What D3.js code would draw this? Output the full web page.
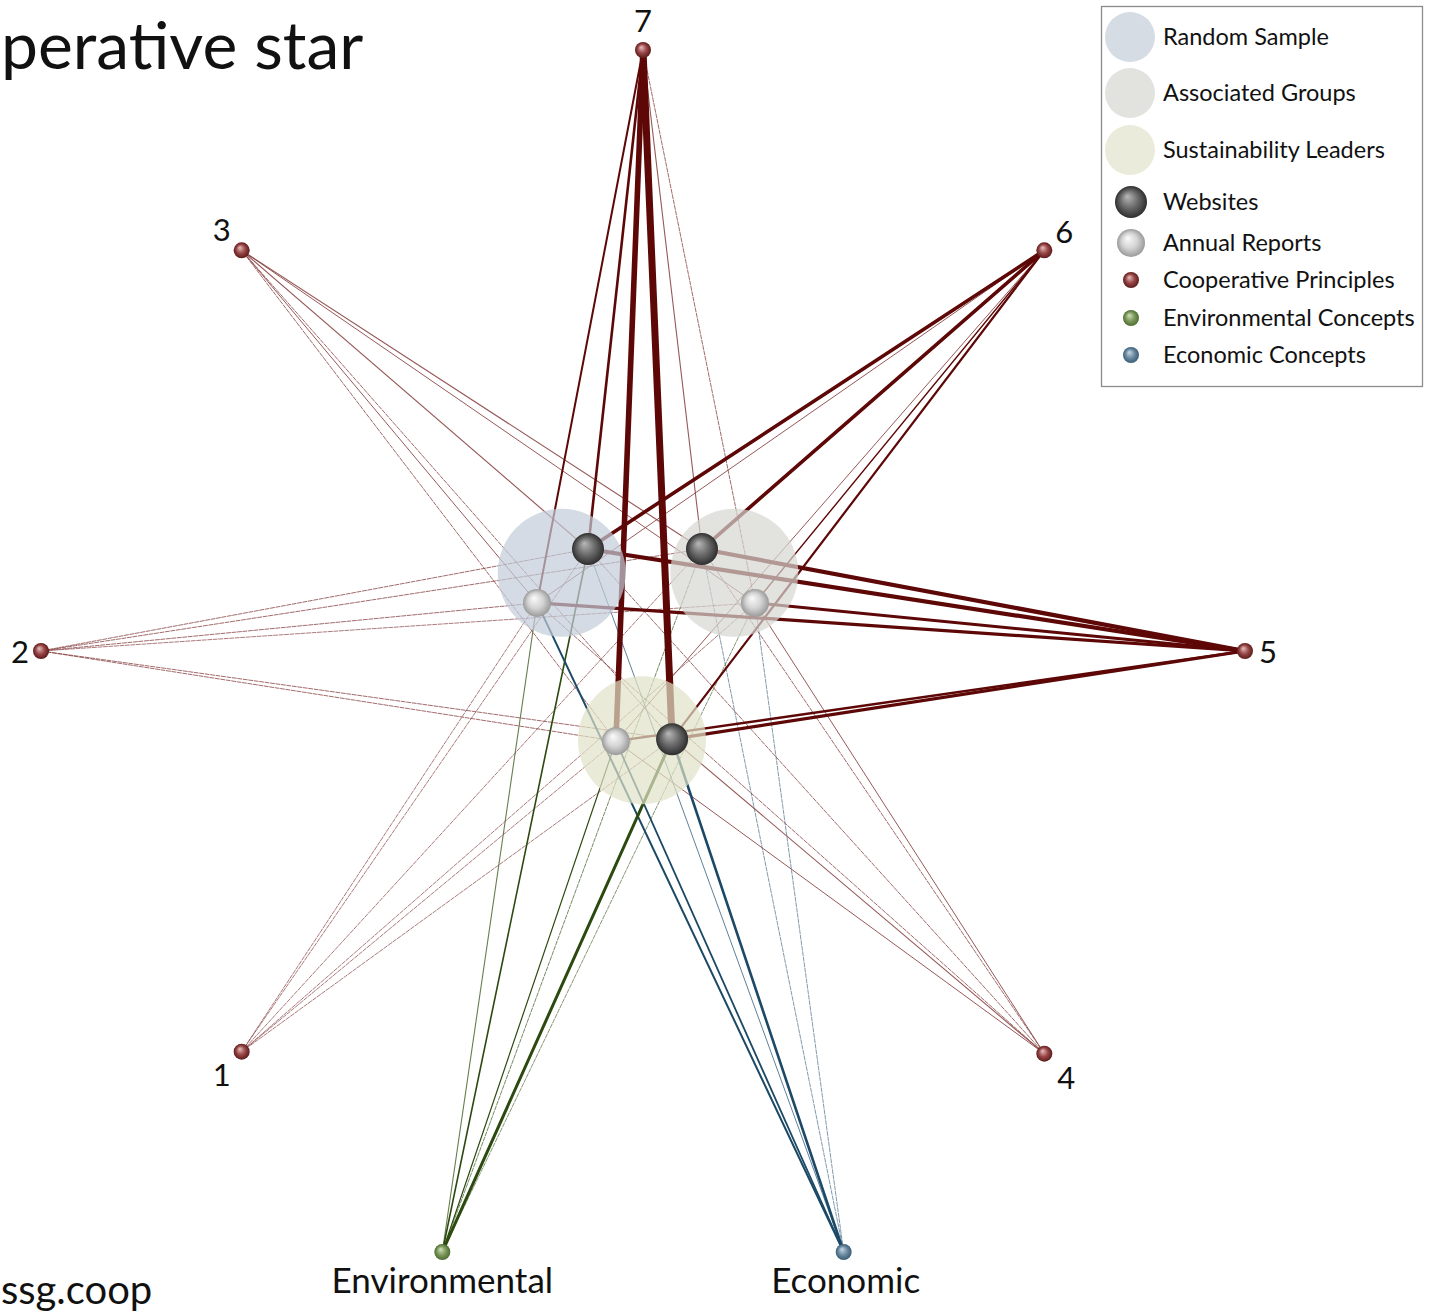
<!DOCTYPE html>
<html>
<head>
<meta charset="utf-8">
<script src="https://cdn.jsdelivr.net/npm/d3@7"></script>
<style>
  html, body { margin: 0; padding: 0; background: #ffffff; overflow: hidden; }
  svg { display: block; }
  text { font-family: Lato, "Open Sans", "DejaVu Sans", sans-serif; fill: #111; }
</style>
</head>
<body>
<svg id="chart" width="1430" height="1312"></svg>
<script>
// ---------------- DATA ----------------
const titleText = "perative star";
const footerText = "ssg.coop";

// outer nodes: the seven cooperative principles + two concept groups
const targetNames = ["1", "2", "3", "4", "5", "6", "7", "Environmental", "Economic"];
const targetKinds = ["principle", "principle", "principle", "principle", "principle", "principle", "principle", "environmental", "economic"];
const targetGridX = [-2, -3, -2, 2, 3, 2, 0, -1, 1];
const targetGridY = [2, 0, -2, 2.01, 0, -2, -3, 3, 3];

// sample groups (large translucent discs)
const groupNames = ["Random Sample", "Associated Groups", "Sustainability Leaders"];
const groupGridX = [-0.405, 0.455, -0.005];
const groupGridY = [-0.39, -0.39, 0.445];

// source nodes (websites / annual reports of each group)
const sourceNames = ["RS Websites", "RS Annual Reports", "AG Websites", "AG Annual Reports", "SL Websites", "SL Annual Reports"];
const sourceKinds = ["website", "report", "website", "report", "website", "report"];
const sourceGridX = [-0.274, -0.528, 0.294, 0.558, 0.145, -0.135];
const sourceGridY = [-0.509, -0.24, -0.509, -0.24, 0.44, 0.45];

// link strengths, per source, to targets in order 1..7, Environmental, Economic
const linksRSW = [0.8, 0.9, 1.15, 0.9, 4.2, 3.6, 2.6, 1.6, 1.0];
const linksRSA = [0.8, 0.9, 1.0, 0.9, 3.2, 1.0, 2.0, 1.1, 2.0];
const linksAGW = [0.8, 0.9, 1.15, 0.9, 4.2, 3.6, 1.1, 0.9, 0.8];
const linksAGA = [0.8, 0.8, 1.0, 1.0, 3.0, 1.4, 0.9, 0.8, 0.8];
const linksSLW = [0.8, 0.9, 0.9, 1.1, 3.2, 2.2, 7.0, 3.0, 2.6];
const linksSLA = [0.8, 0.9, 0.9, 1.0, 2.4, 1.0, 5.6, 1.2, 1.8];
const linkRows = [linksRSW, linksRSA, linksAGW, linksAGA, linksSLW, linksSLA];

// legend
const legendLabels = ["Random Sample", "Associated Groups", "Sustainability Leaders", "Websites", "Annual Reports", "Cooperative Principles", "Environmental Concepts", "Economic Concepts"];
const legendKinds = ["group0", "group1", "group2", "website", "report", "principle", "environmental", "economic"];

// ---------------- DRAW ----------------
const svg = d3.select("#chart");
const x = d3.scaleLinear().domain([-3, 3]).range([41, 1245]);
const y = d3.scaleLinear().domain([-3, 3]).range([50, 1252]);
const widthScale = d3.scaleLinear().domain([0, 7]).range([0, 7]);

const groupFill = ["rgb(194,204,216)", "rgb(214,214,208)", "rgb(224,226,200)"];
const groupSolid = ["rgb(214,220,228)", "rgb(226,226,222)", "rgb(234,235,218)"];
const edgeColor = { principle: "#5e0707", environmental: "#2c4a10", economic: "#1b4966" };
const thinColor = { principle: "#843c3c", environmental: "#4a6630", economic: "#436a84" };

// sphere gradients
const defs = svg.append("defs");
const sphereStyles = {
  website: ["#b9b9b9", "#6a6a6a", "#2e2e2e"],
  report: ["#fbfbfb", "#d4d4d4", "#9a9a9a"],
  principle: ["#e6c2c2", "#9a4848", "#5c1a1a"],
  environmental: ["#d2e2bf", "#7d9a5c", "#4f6b33"],
  economic: ["#c8d8e4", "#6d8ca3", "#3b5c74"]
};
Object.entries(sphereStyles).forEach(([k, c]) => {
  const g = defs.append("radialGradient").attr("id", "sph-" + k)
    .attr("cx", "0.5").attr("cy", "0.5").attr("r", "0.5")
    .attr("fx", "0.38").attr("fy", "0.32");
  g.append("stop").attr("offset", "0%").attr("stop-color", c[0]);
  g.append("stop").attr("offset", "55%").attr("stop-color", c[1]);
  g.append("stop").attr("offset", "100%").attr("stop-color", c[2]);
});

const radius = { website: 16, report: 14, principle: 8, environmental: 8, economic: 8 };

// build links
const links = [];
linkRows.forEach((row, si) => {
  row.forEach((w, ti) => {
    links.push({ s: si, t: ti, w: w, kind: targetKinds[ti] });
  });
});
links.sort((a, b) => a.w - b.w);

const gLinks = svg.append("g");
gLinks.selectAll("line").data(links).join("line")
  .attr("x1", d => x(sourceGridX[d.s]))
  .attr("y1", d => y(sourceGridY[d.s]))
  .attr("x2", d => x(targetGridX[d.t]))
  .attr("y2", d => y(targetGridY[d.t]))
  .attr("stroke", d => d.w < 1.2 ? thinColor[d.kind] : edgeColor[d.kind])
  .attr("stroke-opacity", d => d.w < 1.2 ? 0.85 : 1)
  .attr("stroke-width", d => widthScale(d.w))
  .attr("stroke-dasharray", d => d.w < 1.0 ? "4,1.5" : null)
  .attr("stroke-linecap", "round");

// translucent group discs on top of links
svg.append("g").selectAll("circle").data(groupNames).join("circle")
  .attr("cx", (d, i) => x(groupGridX[i]))
  .attr("cy", (d, i) => y(groupGridY[i]))
  .attr("r", 64)
  .attr("fill", (d, i) => groupFill[i])
  .attr("fill-opacity", 0.7);

// source nodes
svg.append("g").selectAll("circle").data(sourceNames).join("circle")
  .attr("cx", (d, i) => x(sourceGridX[i]))
  .attr("cy", (d, i) => y(sourceGridY[i]))
  .attr("r", (d, i) => radius[sourceKinds[i]])
  .attr("fill", (d, i) => "url(#sph-" + sourceKinds[i] + ")");

// target nodes
svg.append("g").selectAll("circle").data(targetNames).join("circle")
  .attr("cx", (d, i) => x(targetGridX[i]))
  .attr("cy", (d, i) => y(targetGridY[i]))
  .attr("r", (d, i) => radius[targetKinds[i]])
  .attr("fill", (d, i) => "url(#sph-" + targetKinds[i] + ")");

// target labels
const labelOffset = {
  "1": [-20, 34], "2": [-21, 12], "3": [-20, -9],
  "4": [22, 35], "5": [23, 12], "6": [20, -7],
  "7": [0, -18], "Environmental": [0, 41], "Economic": [2, 41]
};
svg.append("g").selectAll("text").data(targetNames).join("text")
  .attr("x", (d, i) => x(targetGridX[i]) + labelOffset[d][0])
  .attr("y", (d, i) => y(targetGridY[i]) + labelOffset[d][1])
  .attr("text-anchor", "middle")
  .attr("font-size", d => d.length > 2 ? 35 : 31)
  .text(d => d);

// title and footer fragments as visible in the slide crop
svg.append("text").attr("x", 1).attr("y", 69)
  .attr("font-size", 66).text(titleText);
svg.append("text").attr("x", 1).attr("y", 1304)
  .attr("font-size", 40).text(footerText);

// legend
const lg = svg.append("g");
lg.append("rect").attr("x", 1101.5).attr("y", 6.5).attr("width", 321).attr("height", 380)
  .attr("fill", "#fff").attr("stroke", "#8c8c8c").attr("stroke-width", 1.3);
const legendRowY = [37, 93, 150, 202, 243, 280, 318, 355];
const legendItems = lg.selectAll("g.item").data(legendLabels).join("g").attr("class", "item");
legendItems.each(function (d, i) {
  const g = d3.select(this);
  const k = legendKinds[i];
  const cy = legendRowY[i];
  if (k.startsWith("group")) {
    g.append("circle").attr("cx", 1130).attr("cy", cy).attr("r", 25)
      .attr("fill", groupSolid[+k.slice(5)]);
  } else {
    g.append("circle").attr("cx", 1131).attr("cy", cy).attr("r", k === "website" ? 16 : k === "report" ? 14 : 8)
      .attr("fill", "url(#sph-" + k + ")");
  }
  g.append("text").attr("x", 1163).attr("y", cy + 8).attr("font-size", 23.5).text(d);
});
</script>
</body>
</html>
